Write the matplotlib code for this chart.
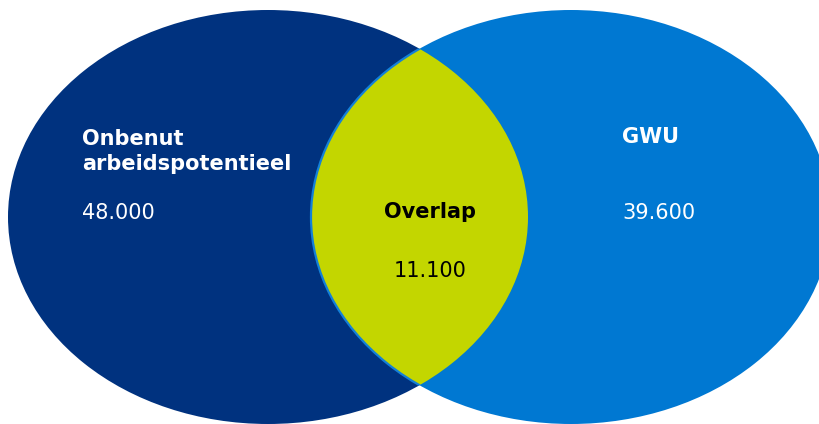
import matplotlib.pyplot as plt
from matplotlib.patches import Ellipse

# Venn-diagram: onbenut arbeidspotentieel vs GWU
set_names = ["Onbenut\narbeidspotentieel", "GWU"]
set_values = [48000, 39600]
overlap_name = "Overlap"
overlap_value = 11100

col_left = "#00327F"
col_right = "#0078D2"
col_overlap = "#C3D600"


def fmt(v):
    # Nederlandse notatie: punt als duizendtalscheiding
    return f"{v:,}".replace(",", ".")


fig = plt.figure(figsize=(8.2, 4.24), dpi=100)
ax = fig.add_axes([0, 0, 1, 1])
ax.set_xlim(0, 820)
ax.set_ylim(424, 0)
ax.axis("off")

# ellipsen (pixelcoordinaten)
left = Ellipse((268, 217), 520, 414, facecolor=col_left, edgecolor="none")
right = Ellipse((571, 217), 520, 414, facecolor=col_right, edgecolor="none")
ax.add_patch(left)
ax.add_patch(right)

# overlap = linker ellips geknipt op rechter ellips
ov = Ellipse((268, 217), 520, 414, facecolor=col_overlap, edgecolor="none")
ax.add_patch(ov)
ov.set_clip_path(right)

# rand van rechter ellips zichtbaar binnen de overlap
edge = Ellipse((571, 217), 520, 414, facecolor="none", edgecolor="#1380D8", linewidth=1.6)
ax.add_patch(edge)
edge.set_clip_path(left)

fs = 15
name_lines = set_names[0].split("\n")
ax.text(82, 145, name_lines[0], color="white", fontsize=fs, fontweight="bold",
        ha="left", va="baseline")
ax.text(82, 170, name_lines[1], color="white", fontsize=fs, fontweight="bold",
        ha="left", va="baseline")
ax.text(82, 219, fmt(set_values[0]), color="white", fontsize=fs,
        ha="left", va="baseline")

ax.text(622, 143, set_names[1], color="white", fontsize=fs, fontweight="bold",
        ha="left", va="baseline")
ax.text(622, 219, fmt(set_values[1]), color="white", fontsize=fs,
        ha="left", va="baseline")

ax.text(430, 218, overlap_name, color="black", fontsize=fs, fontweight="bold",
        ha="center", va="baseline")
ax.text(430, 277, fmt(overlap_value), color="black", fontsize=fs,
        ha="center", va="baseline")

fig.savefig("out.png", dpi=100)
